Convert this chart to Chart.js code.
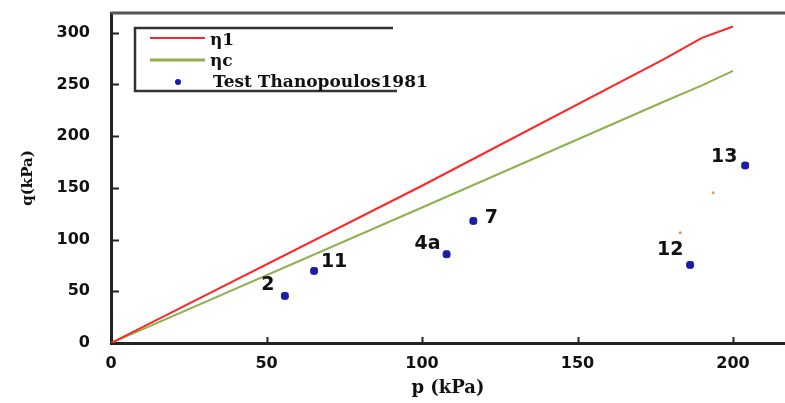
<!DOCTYPE html>
<html>
<head>
<meta charset="utf-8">
<script src="https://cdn.jsdelivr.net/npm/chart.js@4/dist/chart.umd.min.js"></script>
<style>
  html, body { margin: 0; padding: 0; background: #fff; }
  #wrap { width: 785px; height: 403px; }
</style>
</head>
<body>
<div id="wrap"><canvas id="chart" width="785" height="403"></canvas></div>
<script>
// lines (p in kPa)
const lineP = [0, 100, 177.5, 190, 200]
const eta1 = [0, 152, 274, 295, 306]
const etaC = [0, 131, 233, 249, 263]

// test points Thanopoulos 1981
const testNames = ['2', '11', '4a', '7', '12', '13']
const testP = [55.9, 65.3, 107.9, 116.5, 186.2, 203.9]
const testQ = [45.5, 69.7, 85.8, 118.0, 75.5, 171.6]

// small orange specks in the picture
const speckP = [183, 193.6]
const speckQ = [106.5, 145.2]

const xTicks = [0, 50, 100, 150, 200]
const yTicks = [0, 50, 100, 150, 200, 250, 300]

// label offsets (px) from the point
const labelOffsets = [[-17, -11], [20, -9], [-19, -10], [18, -3], [-20, -15], [-21, -8]]

const RED = '#ff2525'
const GREEN = '#8eb04e'
const BLUE = '#1c1ca6'

const toXY = (xs, ys) => xs.map((x, i) => ({x: x, y: ys[i]}))

const extras = {
    id: 'extras',
    afterDraw(chart) {
        const ctx = chart.ctx
        const area = chart.chartArea
        const xs = chart.scales.x
        const ys = chart.scales.y
        ctx.save()
        // top frame line
        ctx.strokeStyle = '#555'
        ctx.lineWidth = 3
        ctx.beginPath()
        ctx.moveTo(area.left, area.top)
        ctx.lineTo(chart.width, area.top)
        ctx.stroke()
        // inner tick marks
        ctx.strokeStyle = '#222'
        ctx.lineWidth = 2
        yTicks.forEach(v => {
            if (v === 0) return
            const py = Math.round(ys.getPixelForValue(v)) + 0.5
            ctx.beginPath()
            ctx.moveTo(area.left, py)
            ctx.lineTo(area.left + 8, py)
            ctx.stroke()
        })
        xTicks.forEach(v => {
            if (v === 0) return
            const px = Math.round(xs.getPixelForValue(v)) + 0.5
            ctx.beginPath()
            ctx.moveTo(px, area.bottom)
            ctx.lineTo(px, area.bottom - 6)
            ctx.stroke()
        })
        // point labels
        ctx.fillStyle = '#111'
        ctx.font = 'bold 19px "DejaVu Sans"'
        ctx.textAlign = 'center'
        ctx.textBaseline = 'middle'
        testNames.forEach((name, i) => {
            const px = xs.getPixelForValue(testP[i]) + labelOffsets[i][0]
            const py = ys.getPixelForValue(testQ[i]) + labelOffsets[i][1]
            ctx.fillText(name, px, py)
        })
        // legend box (open on the right)
        ctx.strokeStyle = '#333'
        ctx.lineWidth = 2.5
        ctx.beginPath()
        ctx.moveTo(393, 28)
        ctx.lineTo(135, 28)
        ctx.lineTo(135, 91)
        ctx.lineTo(397, 91)
        ctx.stroke()
        const ds = chart.data.datasets
        ctx.font = 'bold 17px "DejaVu Serif"'
        ctx.textAlign = 'left'
        ctx.fillStyle = '#111'
        ctx.strokeStyle = ds[0].borderColor
        ctx.lineWidth = 2
        ctx.beginPath(); ctx.moveTo(150, 38); ctx.lineTo(205, 38); ctx.stroke()
        ctx.fillText(ds[0].label, 210, 41)
        ctx.strokeStyle = ds[1].borderColor
        ctx.lineWidth = 3
        ctx.beginPath(); ctx.moveTo(150, 60); ctx.lineTo(205, 60); ctx.stroke()
        ctx.fillText(ds[1].label, 210, 62)
        ctx.fillStyle = ds[2].backgroundColor
        ctx.beginPath(); ctx.arc(178, 82, 3, 0, Math.PI * 2); ctx.fill()
        ctx.fillStyle = '#111'
        ctx.fillText(ds[2].label, 213, 83)
        ctx.restore()
    }
}

new Chart(document.getElementById('chart'), {
    type: 'scatter',
    data: {
        datasets: [
            {
                label: 'η1',
                data: toXY(lineP, eta1),
                showLine: true,
                borderColor: RED,
                borderWidth: 2,
                pointRadius: 0,
                tension: 0
            },
            {
                label: 'ηc',
                data: toXY(lineP, etaC),
                showLine: true,
                borderColor: GREEN,
                borderWidth: 2,
                pointRadius: 0,
                tension: 0
            },
            {
                label: 'Test Thanopoulos1981',
                data: toXY(testP, testQ),
                backgroundColor: BLUE,
                borderColor: BLUE,
                pointRadius: 4,
                pointStyle: 'rectRounded'
            },
            {
                label: '',
                data: toXY(speckP, speckQ),
                backgroundColor: '#e8955a',
                borderWidth: 0,
                pointRadius: 1.5
            }
        ]
    },
    options: {
        responsive: false,
        animation: false,
        layout: {autoPadding: false, padding: {top: 13, left: 0, right: 0, bottom: 0}},
        plugins: {
            legend: {display: false},
            tooltip: {enabled: false}
        },
        scales: {
            x: {
                type: 'linear',
                min: 0,
                max: 216.7,
                afterBuildTicks: s => { s.ticks = xTicks.map(v => ({value: v})) },
                afterFit: s => { s.height = 60; s.paddingLeft = 0; s.paddingRight = 0 },
                grid: {drawOnChartArea: false, drawTicks: false},
                border: {color: '#222', width: 3},
                ticks: {
                    padding: 11,
                    color: '#111',
                    font: {family: 'DejaVu Sans', weight: 'bold', size: 16}
                },
                title: {
                    display: true,
                    text: 'p (kPa)',
                    color: '#111',
                    padding: {top: 0, bottom: 4},
                    font: {family: 'DejaVu Serif', weight: 'bold', size: 18}
                }
            },
            y: {
                type: 'linear',
                min: 0,
                max: 319,
                afterBuildTicks: s => { s.ticks = yTicks.map(v => ({value: v})) },
                afterFit: s => { s.width = 111; s.paddingTop = 0; s.paddingBottom = 0 },
                grid: {drawOnChartArea: false, drawTicks: false},
                border: {color: '#222', width: 3},
                ticks: {
                    padding: 21,
                    color: '#111',
                    font: {family: 'DejaVu Sans', weight: 'bold', size: 16}
                },
                title: {
                    display: true,
                    text: 'q(kPa)',
                    color: '#111',
                    padding: {top: 19, bottom: 0},
                    font: {family: 'DejaVu Serif', weight: 'bold', size: 15}
                }
            }
        }
    },
    plugins: [extras]
})
</script>
</body>
</html>
